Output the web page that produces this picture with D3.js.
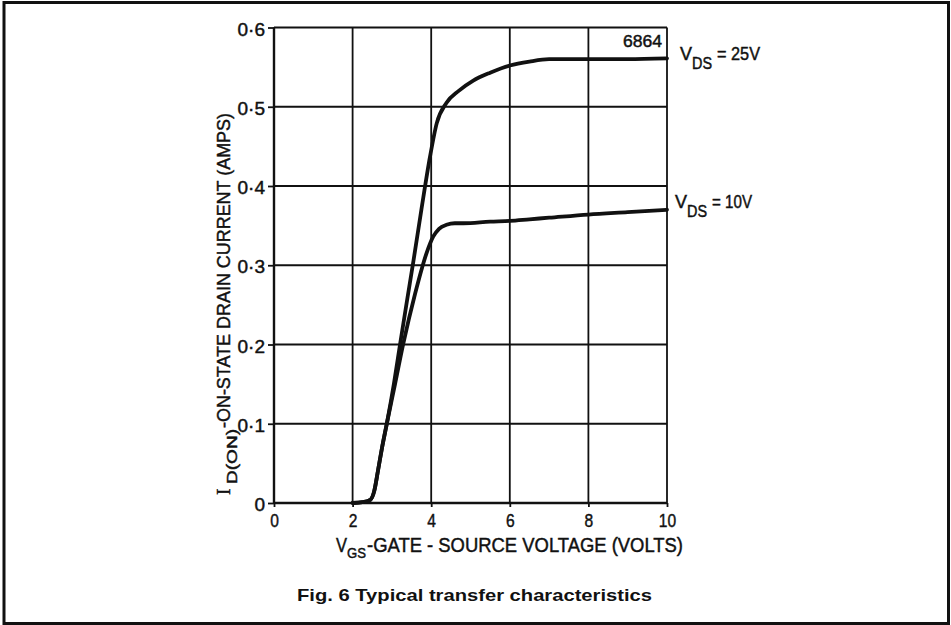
<!DOCTYPE html>
<html>
<head>
<meta charset="utf-8">
<script src="https://cdn.jsdelivr.net/npm/d3@7"></script>
<style>
  html, body { margin: 0; padding: 0; background: #fff; }
  svg { display: block; }
  text { font-family: "Liberation Sans", Arial, sans-serif; fill: #111; }
  text.heavy { stroke: #111; stroke-width: 0.45px; }
</style>
</head>
<body>
<svg id="chart" width="951" height="625"></svg>
<script>
// ---- data ----
const xTicks = [0, 2, 4, 6, 8, 10];
const yTicks = [0, 0.1, 0.2, 0.3, 0.4, 0.5, 0.6];
const yTickLabels = ["0", "0·1", "0·2", "0·3", "0·4", "0·5", "0·6"];

const vgs25 = [2.0, 2.25, 2.45, 2.55, 2.65, 2.75, 2.87, 3.05, 3.21, 3.38, 3.55, 3.75, 3.97, 4.14, 4.39, 4.7, 5.07, 5.5, 6.0, 6.5, 7.0, 8.0, 9.0, 10.0];
const id25  = [0, 0.001, 0.004, 0.015, 0.042, 0.07, 0.1, 0.15, 0.201, 0.254, 0.306, 0.37, 0.437, 0.479, 0.505, 0.52, 0.533, 0.543, 0.552, 0.557, 0.56, 0.56, 0.56, 0.561];

const vgs10 = [2.0, 2.25, 2.45, 2.55, 2.65, 2.75, 2.87, 3.08, 3.29, 3.59, 3.88, 4.05, 4.2, 4.39, 4.6, 4.82, 5.5, 6.0, 6.5, 7.0, 8.0, 9.0, 10.0];
const id10  = [0, 0.001, 0.004, 0.015, 0.042, 0.07, 0.1, 0.15, 0.201, 0.264, 0.315, 0.336, 0.346, 0.351, 0.353, 0.353, 0.355, 0.356, 0.358, 0.36, 0.364, 0.367, 0.37];

const seriesLabels = ["25V", "10V"];

// ---- layout ----
const svg = d3.select("#chart");
const x = d3.scaleLinear().domain([0, 10]).range([274, 667]);
const y = d3.scaleLinear().domain([0, 0.6]).range([503, 27.5]);

function condense(sel, factor) {
  sel.each(function () {
    const w = this.getComputedTextLength();
    d3.select(this).attr("textLength", w * factor).attr("lengthAdjust", "spacingAndGlyphs");
  });
}

// outer frame
svg.append("rect").attr("x", 4).attr("y", 2.5).attr("width", 944.5).attr("height", 621)
  .attr("fill", "none").attr("stroke", "#111").attr("stroke-width", 3);

// grid
const grid = svg.append("g").attr("stroke", "#111").attr("stroke-width", 1.8);
grid.selectAll("line.v").data(xTicks).join("line")
  .attr("x1", d => x(d)).attr("x2", d => x(d)).attr("y1", y(0)).attr("y2", y(0.6));
grid.selectAll("line.h").data(yTicks).join("line")
  .attr("x1", x(0)).attr("x2", x(10)).attr("y1", d => y(d)).attr("y2", d => y(d));
// heavier axes
svg.append("line").attr("x1", x(0)).attr("x2", x(0)).attr("y1", y(0)).attr("y2", y(0.6))
  .attr("stroke", "#111").attr("stroke-width", 2.4);
svg.append("line").attr("x1", x(0)).attr("x2", x(10)).attr("y1", y(0)).attr("y2", y(0))
  .attr("stroke", "#111").attr("stroke-width", 2.4);

// axes via d3
const yAxis = d3.axisLeft(y).tickValues(yTicks).tickSize(6).tickPadding(3)
  .tickFormat((d, i) => yTickLabels[i]);
const gy = svg.append("g").attr("transform", `translate(${x(0)},0)`).call(yAxis);
gy.select(".domain").remove();
gy.selectAll(".tick line").attr("stroke", "#111").attr("stroke-width", 1.8);
gy.selectAll(".tick text").attr("class", "heavy").attr("font-size", 19).attr("fill", "#111").attr("dy", "0.4em")
  .style("font-family", "'Liberation Sans', Arial, sans-serif");
condense(gy.selectAll(".tick text"), 1.0);

const xAxis = d3.axisBottom(x).tickValues(xTicks).tickSize(4).tickPadding(7).tickFormat(d3.format("d"));
const gx = svg.append("g").attr("transform", `translate(0,${y(0)})`).call(xAxis);
gx.select(".domain").remove();
gx.selectAll(".tick line").attr("stroke", "#111").attr("stroke-width", 1.8);
gx.selectAll(".tick text").attr("class", "heavy").attr("font-size", 19).attr("fill", "#111")
  .style("font-family", "'Liberation Sans', Arial, sans-serif");
condense(gx.selectAll(".tick text"), 0.82);

// curves
const line = d3.line().x(d => x(d[0])).y(d => y(d[1])).curve(d3.curveMonotoneX);
const curves = [d3.zip(vgs25, id25), d3.zip(vgs10, id10)];
svg.selectAll("path.curve").data(curves).join("path")
  .attr("class", "curve").attr("d", line)
  .attr("fill", "none").attr("stroke", "#111").attr("stroke-width", 3.8)
  .attr("stroke-linejoin", "round").attr("stroke-linecap", "round");

// curve labels
function vdsLabel(xp, yb, value, len) {
  svg.append("text").attr("class", "heavy").attr("x", xp).attr("y", yb).attr("font-size", 18).text("V");
  svg.append("text").attr("class", "heavy").attr("x", xp + 12).attr("y", yb + 9).attr("font-size", 16)
    .attr("textLength", 20).attr("lengthAdjust", "spacingAndGlyphs").text("DS");
  svg.append("text").attr("class", "heavy").attr("x", xp + 37).attr("y", yb).attr("font-size", 18)
    .attr("textLength", len).attr("lengthAdjust", "spacingAndGlyphs").text("= " + value);
}
vdsLabel(680, 60, seriesLabels[0], 43);
vdsLabel(675, 208, seriesLabels[1], 40);

// code number
svg.append("text").attr("class", "heavy").attr("x", 623).attr("y", 47).attr("font-size", 16)
  .attr("textLength", 39).attr("lengthAdjust", "spacingAndGlyphs").text("6864");

// x axis title
svg.append("text").attr("class", "heavy").attr("x", 336).attr("y", 552).attr("font-size", 20)
  .attr("textLength", 11).attr("lengthAdjust", "spacingAndGlyphs").text("V");
svg.append("text").attr("class", "heavy").attr("x", 347).attr("y", 558).attr("font-size", 15)
  .attr("textLength", 19).attr("lengthAdjust", "spacingAndGlyphs").text("GS");
svg.append("text").attr("class", "heavy").attr("x", 367).attr("y", 552).attr("font-size", 20)
  .attr("textLength", 316).attr("lengthAdjust", "spacingAndGlyphs").text("-GATE - SOURCE VOLTAGE (VOLTS)");

// y axis title
const yt = svg.append("g").attr("transform", "translate(230,495) rotate(-90)");
yt.append("text").attr("class", "heavy").attr("x", 0).attr("y", 0).attr("font-size", 19)
  .style("font-family", "'Liberation Serif', serif").text("I");
yt.append("text").attr("class", "heavy").attr("x", 11).attr("y", 7).attr("font-size", 15)
  .attr("textLength", 55).attr("lengthAdjust", "spacingAndGlyphs").text("D(ON)");
yt.append("text").attr("class", "heavy").attr("x", 67).attr("y", 0).attr("font-size", 19)
  .attr("textLength", 315).attr("lengthAdjust", "spacingAndGlyphs").text("-ON-STATE DRAIN CURRENT (AMPS)");

// caption
svg.append("text").attr("x", 297).attr("y", 601).attr("font-size", 17).attr("font-weight", "bold")
  .attr("textLength", 355).attr("lengthAdjust", "spacingAndGlyphs")
  .text("Fig. 6 Typical transfer characteristics");
</script>
</body>
</html>
